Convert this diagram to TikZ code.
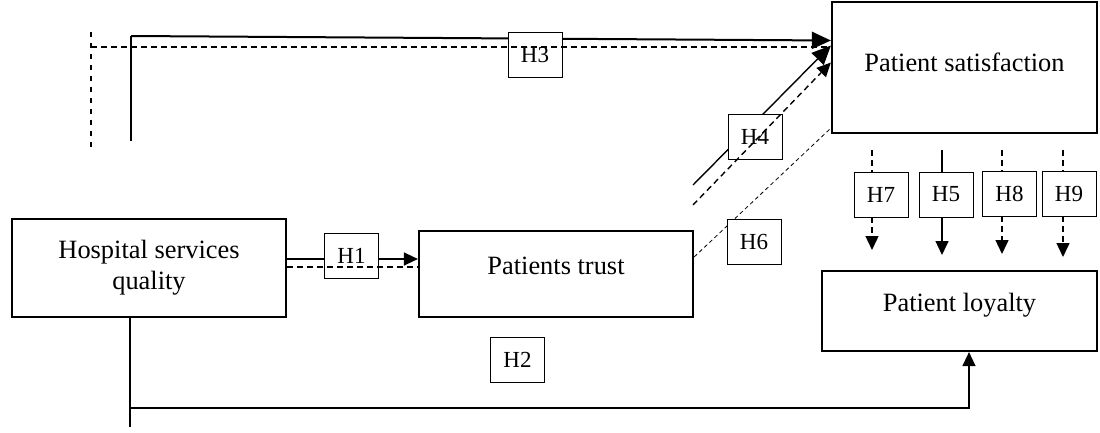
\documentclass[tikz,border=0pt]{standalone}
\usepackage{fontspec}
\setmainfont{Liberation Serif}
\usetikzlibrary{arrows.meta,backgrounds,calc}
\begin{document}
\begin{tikzpicture}[x=1pt,y=-1pt,
  box/.style={draw,line width=2.2pt,fill=white,inner sep=0pt,font=\fontsize{26.4}{31}\selectfont,align=center},
  hbox/.style={draw,line width=0.9pt,fill=white,inner sep=0pt,minimum width=54pt,minimum height=45pt,font=\fontsize{23}{26}\selectfont},
  solidc/.style={line width=1.4pt},
  dashc/.style={line width=1.4pt,dash pattern=on 6pt off 4pt},
  vdash/.style={line width=1.2pt,dash pattern=on 5pt off 6pt},
  thindash/.style={line width=0.8pt,dash pattern=on 4pt off 3pt},
  arrowtip/.style={-{Triangle[length=14pt,width=13pt]}},
  bigarrow/.style={-{Triangle[length=19pt,width=17pt]}},
]
\useasboundingbox (0,0) rectangle (1100,433);

% main boxes
\node[box,minimum width=274pt,minimum height=98pt] (hsq) at (149,268) {Hospital services\\quality};
\node[box,minimum width=274pt,minimum height=86pt,text height=18pt,text depth=18pt] (ptrust) at (556,274) {Patients trust};
\node[box,minimum width=265pt,minimum height=131pt,text height=18pt,text depth=9pt] (sat) at (964.5,67.5) {Patient satisfaction};
\node[box,minimum width=275pt,minimum height=80pt,text height=18pt,text depth=18pt] (loyal) at (959.5,311) {Patient loyalty};

% hypothesis labels
\node[hbox] (h1) at (351.5,255.5) {H1};
\node[hbox] (h2) at (517.5,359.5) {H2};
\node[hbox] (h3) at (535,55) {H3};
\node[hbox] (h4) at (755,136.5) {H4};
\node[hbox] (h6) at (754,242) {H6};
\node[hbox] (h7) at (881,194.5) {H7};
\node[hbox] (h5) at (946,194.5) {H5};
\node[hbox] (h8) at (1009.5,193.5) {H8};
\node[hbox] (h9) at (1069,193.5) {H9};

% free ends
\coordinate (h2low) at (130,427);
\coordinate (h2turn) at (130,408);
\coordinate (h3s) at (131,141);
\coordinate (h3c) at (131,36);
\coordinate (h3d) at (91,147);
\coordinate (h3dtop) at (91,32);
\coordinate (h3dc) at (91,47);
\coordinate (h4s) at (693,185);
\coordinate (h4d) at (693,205);
\coordinate (h7a) at (872,150);
\coordinate (h7b) at (872,250);
\coordinate (h5a) at (942,150);
\coordinate (h5b) at (942,255);
\coordinate (h8a) at (1002,150);
\coordinate (h8b) at (1002,254);
\coordinate (h9a) at (1063,150);
\coordinate (h9b) at (1063,257);

\begin{scope}[on background layer]
  % H1 solid
  \draw[solidc,arrowtip] ([yshift=9pt]hsq.east) coordinate (h1s) -- (h1s -| ptrust.west);
  % H2
  \draw[solidc] ([xshift=-19pt]hsq.south) -- (h2low);
  \draw[solidc,arrowtip] (h2turn) -| ([xshift=9.5pt]loyal.south);
  % H3 solid
  \draw[solidc] (h3s) -- (h3c);
  \draw[line width=2pt,bigarrow] (h3c) -- ([yshift=27pt]sat.west);
  % H4 solid
  \draw[solidc,bigarrow] (h4s) -- ([yshift=22pt]sat.west);
  % H6
  \draw[thindash] ([yshift=17pt]ptrust.east) -- ([yshift=6pt]sat.south west);
  % H7, H5, H8, H9
  \draw[dashc] (h7a) -- (h7a |- h7.north);
  \draw[dashc,arrowtip] (h7a |- h7.south) -- (h7b);
  \draw[solidc] (h5a) -- (h5a |- h5.north);
  \draw[solidc,arrowtip] (h5a |- h5.south) -- (h5b);
  \draw[dashc] (h8a) -- (h8a |- h8.north);
  \draw[dashc,arrowtip] (h8a |- h8.south) -- (h8b);
  \draw[dashc] (h9a) -- (h9a |- h9.north);
  \draw[dashc,arrowtip] (h9a |- h9.south) -- (h9b);
\end{scope}

% dashed connectors drawn over the labels
\draw[dashc] ([yshift=1pt]hsq.east) coordinate (h1d) -- (h1d -| ptrust.west);
\draw[vdash] (h3d) -- (h3dtop);
\draw[dashc] (h3dc) -- ([yshift=20.5pt]sat.west);
\draw[dashc,arrowtip] (h4d) -- ([yshift=5pt]sat.west);
\end{tikzpicture}
\end{document}
